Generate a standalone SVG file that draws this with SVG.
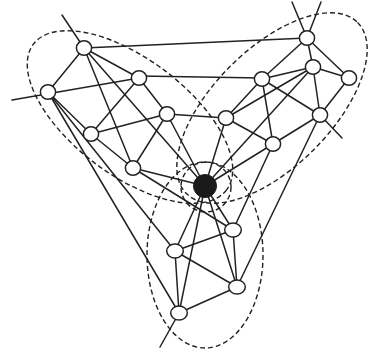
<svg xmlns="http://www.w3.org/2000/svg" width="368" height="353" viewBox="0 0 368 353">
<style>
.e{stroke:#222;stroke-width:1.5;fill:none;stroke-linecap:round}
.d{stroke:#222;stroke-width:1.4;fill:none;stroke-dasharray:5 3}
.n{fill:#fff;stroke:#222;stroke-width:1.5}
.b{fill:#1a1a1a;stroke:#1a1a1a;stroke-width:1}
</style>
<rect width="368" height="353" fill="#fff"/>
<g id="regions">
<ellipse class="d" cx="130" cy="117" rx="121" ry="58" transform="rotate(37 130 117)"/>
<ellipse class="d" cx="272" cy="108" rx="121" ry="59" transform="rotate(-45 272 108)"/>
<ellipse class="d" cx="205" cy="255" rx="58" ry="93"/>
<circle class="d" cx="206" cy="187" r="25"/>
</g>
<g id="connectors" class="e">
<line x1="84" y1="48" x2="62" y2="15"/>
<line x1="12" y1="100" x2="139" y2="78"/>
<line x1="84" y1="48" x2="139" y2="78"/>
<line x1="84" y1="48" x2="48" y2="92"/>
<line x1="48" y1="92" x2="91" y2="134"/>
<line x1="139" y1="78" x2="91" y2="134"/>
<line x1="139" y1="78" x2="167" y2="114"/>
<line x1="91" y1="134" x2="167" y2="114"/>
<line x1="167" y1="114" x2="133" y2="168"/>
<line x1="91" y1="134" x2="133" y2="168"/>
<line x1="84" y1="48" x2="133" y2="168"/>
<line x1="84" y1="48" x2="205" y2="186"/>
<line x1="84" y1="48" x2="307" y2="38"/>
<line x1="139" y1="76" x2="262" y2="78"/>
<line x1="167" y1="114" x2="226" y2="118"/>
<line x1="133" y1="168" x2="205" y2="186"/>
<line x1="48" y1="92" x2="175" y2="251"/>
<line x1="48" y1="92" x2="179" y2="313"/>
<line x1="167" y1="114" x2="205" y2="186"/>
<line x1="133" y1="168" x2="233" y2="230"/>
<line x1="307" y1="38" x2="292" y2="2"/>
<line x1="307" y1="38" x2="321" y2="2"/>
<line x1="307" y1="38" x2="313" y2="67"/>
<line x1="307" y1="38" x2="349" y2="78"/>
<line x1="307" y1="38" x2="262" y2="79"/>
<line x1="313" y1="67" x2="349" y2="78"/>
<line x1="313" y1="67" x2="262" y2="79"/>
<line x1="313" y1="67" x2="320" y2="115"/>
<line x1="313" y1="67" x2="226" y2="118"/>
<line x1="313" y1="67" x2="205" y2="186"/>
<line x1="349" y1="78" x2="320" y2="115"/>
<line x1="262" y1="79" x2="226" y2="118"/>
<line x1="262" y1="79" x2="273" y2="144"/>
<line x1="262" y1="79" x2="320" y2="115"/>
<line x1="226" y1="118" x2="273" y2="144"/>
<line x1="226" y1="118" x2="205" y2="186"/>
<line x1="320" y1="115" x2="273" y2="144"/>
<line x1="320" y1="115" x2="342" y2="138"/>
<line x1="273" y1="144" x2="205" y2="186"/>
<line x1="273" y1="144" x2="233" y2="230"/>
<line x1="320" y1="115" x2="237" y2="287"/>
<line x1="175" y1="251" x2="233" y2="230"/>
<line x1="175" y1="251" x2="237" y2="287"/>
<line x1="175" y1="251" x2="179" y2="313"/>
<line x1="179" y1="313" x2="237" y2="287"/>
<line x1="233" y1="230" x2="237" y2="287"/>
<line x1="179" y1="313" x2="160" y2="347"/>
<line x1="205" y1="186" x2="175" y2="251"/>
<line x1="205" y1="186" x2="179" y2="313"/>
<line x1="205" y1="186" x2="233" y2="230"/>
<line x1="205" y1="186" x2="237" y2="287"/>
</g>
<g id="nA"><ellipse class="n" cx="84" cy="48" rx="7.6" ry="7.3"/></g>
<g id="nB"><ellipse class="n" cx="139" cy="78" rx="7.6" ry="7.3"/></g>
<g id="nC"><ellipse class="n" cx="48" cy="92" rx="7.6" ry="7.3"/></g>
<g id="nD"><ellipse class="n" cx="167" cy="114" rx="7.6" ry="7.3"/></g>
<g id="nE"><ellipse class="n" cx="91" cy="134" rx="7.6" ry="7.3"/></g>
<g id="nF"><ellipse class="n" cx="133" cy="168" rx="7.6" ry="7.3"/></g>
<g id="nG"><ellipse class="n" cx="307" cy="38" rx="7.6" ry="7.3"/></g>
<g id="nH"><ellipse class="n" cx="313" cy="67" rx="7.6" ry="7.3"/></g>
<g id="nI"><ellipse class="n" cx="349" cy="78" rx="7.6" ry="7.3"/></g>
<g id="nJ"><ellipse class="n" cx="262" cy="79" rx="7.6" ry="7.3"/></g>
<g id="nK"><ellipse class="n" cx="226" cy="118" rx="7.6" ry="7.3"/></g>
<g id="nL"><ellipse class="n" cx="320" cy="115" rx="7.6" ry="7.3"/></g>
<g id="nM"><ellipse class="n" cx="273" cy="144" rx="7.6" ry="7.3"/></g>
<g id="nX"><circle class="b" cx="205" cy="186" r="11.5"/></g>
<g id="nN"><ellipse class="n" cx="233" cy="230" rx="8.3" ry="7"/></g>
<g id="nO"><ellipse class="n" cx="175" cy="251" rx="8.3" ry="7"/></g>
<g id="nP"><ellipse class="n" cx="237" cy="287" rx="8.3" ry="7"/></g>
<g id="nQ"><ellipse class="n" cx="179" cy="313" rx="8.3" ry="7"/></g>
</svg>
